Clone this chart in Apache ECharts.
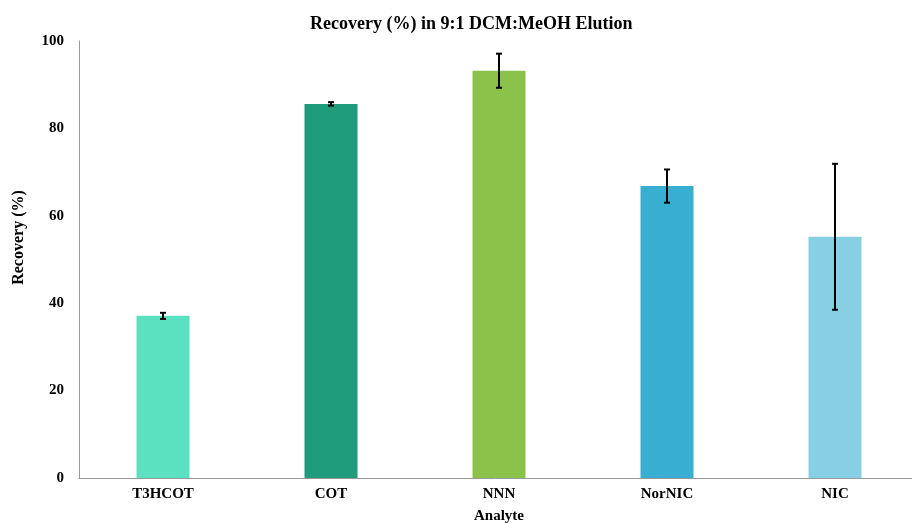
<!DOCTYPE html>
<html><head><meta charset="utf-8">
<script src="https://cdn.jsdelivr.net/npm/echarts@6/dist/echarts.min.js"></script>
<style>html,body{margin:0;padding:0;background:#fff}#c{width:912px;height:523px}</style>
</head><body><div id="c"></div>
<script>
var categories = ['T3HCOT', 'COT', 'NNN', 'NorNIC', 'NIC'];
var recovery = [37.1, 85.6, 93.2, 66.8, 55.2];
var errors = [0.7, 0.4, 3.9, 3.8, 16.7];
var barColors = ['#5ce1c0', '#1f9c7b', '#8bc34a', '#38afd0', '#87cfe2'];
var yTicks = [0, 20, 40, 60, 80, 100];

var font = '"Liberation Serif","Times New Roman",serif';
var chart = echarts.init(document.getElementById('c'));
chart.setOption({
  animation: false,
  title: {
    text: 'Recovery (%) in 9:1 DCM:MeOH Elution',
    left: 305, top: 10,
    textStyle: {fontFamily: font, fontWeight: 'bold', fontSize: 18, color: '#000'}
  },
  grid: {left: 79, top: 41, width: 840, height: 437, outerBoundsMode: 'none', containLabel: false},
  xAxis: {
    type: 'category', data: categories,
    name: 'Analyte', nameLocation: 'middle', nameGap: 31,
    nameTextStyle: {fontFamily: font, fontWeight: 'bold', fontSize: 15, color: '#000'},
    axisLine: {lineStyle: {color: '#999', width: 1}},
    axisTick: {show: false},
    axisLabel: {fontFamily: font, fontWeight: 'bold', fontSize: 15, color: '#000', margin: 9}
  },
  yAxis: {
    type: 'value', min: yTicks[0], max: yTicks[yTicks.length - 1], interval: 20,
    name: 'Recovery (%)', nameLocation: 'middle', nameGap: 52,
    nameTextStyle: {fontFamily: font, fontWeight: 'bold', fontSize: 16, color: '#000', padding: [0, 0, 0, 44]},
    axisLine: {show: true, lineStyle: {color: '#999', width: 1}},
    axisTick: {show: false},
    splitLine: {show: false},
    axisLabel: {fontFamily: font, fontWeight: 'bold', fontSize: 15, color: '#000', margin: 15}
  },
  series: [{
    type: 'bar', barWidth: 53,
    data: recovery.map(function (v, i) { return {value: v, itemStyle: {color: barColors[i]}}; })
  }, {
    type: 'custom',
    data: recovery.map(function (v, i) { return [i, v - errors[i], v + errors[i]]; }),
    renderItem: function (params, api) {
      var lo = api.coord([api.value(0), api.value(1)]);
      var hi = api.coord([api.value(0), api.value(2)]);
      var w = 3;
      var st = {stroke: '#000', lineWidth: 2};
      return {type: 'group', children: [
        {type: 'line', shape: {x1: hi[0], y1: hi[1], x2: lo[0], y2: lo[1]}, style: st},
        {type: 'line', shape: {x1: hi[0] - w, y1: hi[1], x2: hi[0] + w, y2: hi[1]}, style: st},
        {type: 'line', shape: {x1: lo[0] - w, y1: lo[1], x2: lo[0] + w, y2: lo[1]}, style: st}
      ]};
    },
    z: 10
  }]
});
</script></body></html>
